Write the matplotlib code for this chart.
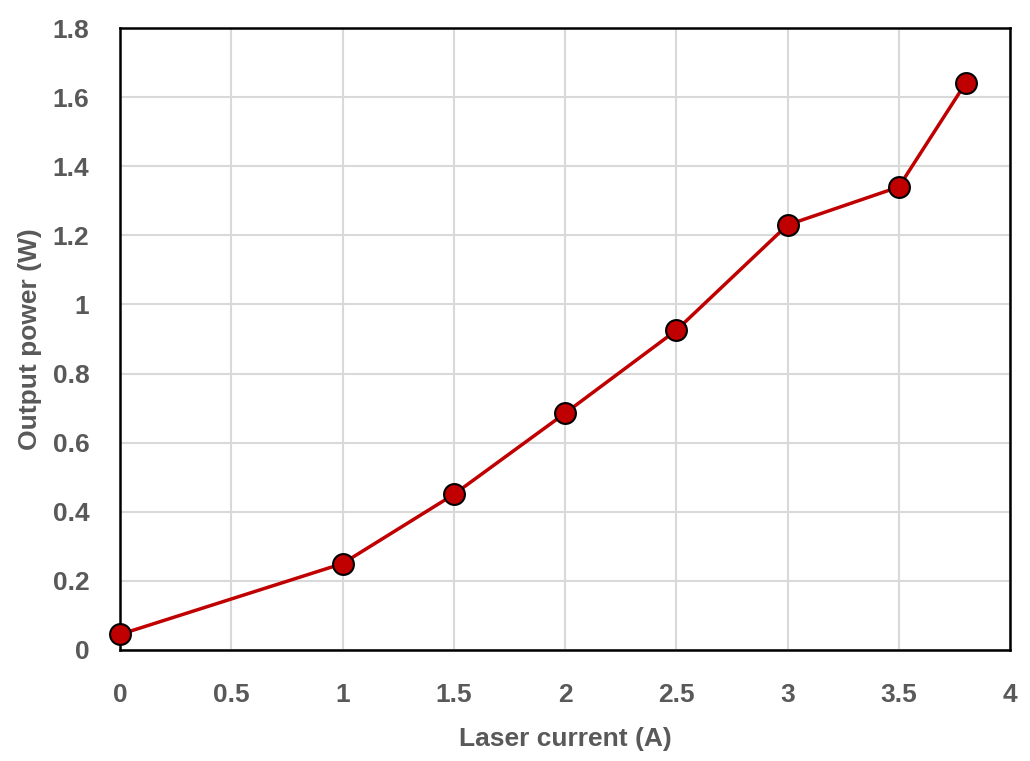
import numpy as np
import matplotlib.pyplot as plt

plt.rcParams['font.family'] = ['Liberation Sans', 'DejaVu Sans']

# data
current = [0, 1, 1.5, 2, 2.5, 3, 3.5, 3.8]
power = [0.045, 0.25, 0.45, 0.685, 0.925, 1.23, 1.34, 1.64]

x_ticks = [0, 0.5, 1, 1.5, 2, 2.5, 3, 3.5, 4]
x_labels = ['0', '0.5', '1', '1.5', '2', '2.5', '3', '3.5', '4']
y_ticks = [0, 0.2, 0.4, 0.6, 0.8, 1, 1.2, 1.4, 1.6, 1.8]
y_labels = ['0', '0.2', '0.4', '0.6', '0.8', '1', '1.2', '1.4', '1.6', '1.8']

text_col = '#595959'

fig = plt.figure(figsize=(10.3, 7.61), dpi=100)
ax = fig.add_axes([0.1165, 0.1459, 0.8641, 0.8173])

ax.plot(current, power, color='#c00000', lw=2.5, marker='o', ms=15,
        mfc='#c00000', mec='black', mew=1.5, zorder=3, clip_on=False)

ax.set_xlim(0, 4)
ax.set_ylim(0, 1.8)
ax.set_xticks(x_ticks)
ax.set_xticklabels(x_labels)
ax.set_yticks(y_ticks)
ax.set_yticklabels(y_labels)
ax.grid(True, color='#d9d9d9', lw=1.5)
ax.set_axisbelow(True)

for sp in ax.spines.values():
    sp.set_color('black')
    sp.set_linewidth(1.8)

ax.tick_params(axis='x', length=0, pad=24, labelsize=19, labelcolor=text_col)
ax.tick_params(axis='y', length=0, pad=22, labelsize=19, labelcolor=text_col)
for lab in ax.get_xticklabels() + ax.get_yticklabels():
    lab.set_fontweight('bold')

ax.set_xlabel('Laser current (A)', fontsize=19, fontweight='bold',
              color=text_col, labelpad=14)
ax.set_ylabel('Output power (W)', fontsize=19, fontweight='bold',
              color=text_col, labelpad=8)

fig.savefig('out.png', dpi=100)
